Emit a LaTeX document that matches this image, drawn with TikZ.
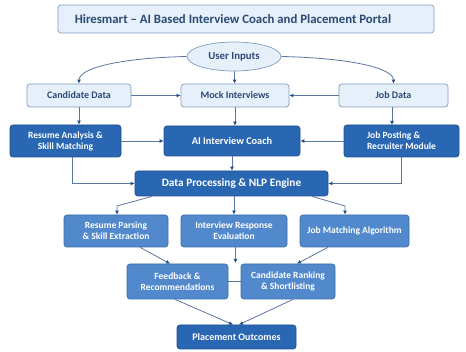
\documentclass[tikz,border=0pt]{standalone}
\usepackage{fontspec}
\setmainfont{Carlito}
\usetikzlibrary{arrows.meta,shapes.geometric}
\definecolor{lightfill}{HTML}{E6F0FA}
\definecolor{lightborder}{HTML}{7F9CC0}
\definecolor{darktext}{HTML}{2B4A75}
\definecolor{darkfill}{HTML}{2A67B3}
\definecolor{darkborder}{HTML}{1E4F8E}
\definecolor{midfill}{HTML}{5189CC}
\definecolor{midborder}{HTML}{3A6DAA}
\definecolor{linecol}{HTML}{5A77A0}
\definecolor{tipcol}{HTML}{1F4C8A}
\newcommand{\fs}[1]{\fontsize{#1}{11}\selectfont}
\tikzset{
  lightbox/.style={draw=lightborder, fill=lightfill, rounded corners=3pt, line width=0.7pt,
    text=darktext, font=\bfseries\fs{10}, align=center, inner sep=1pt},
  darkbox/.style={draw=darkborder, fill=darkfill, rounded corners=3pt, line width=0.7pt,
    text=white, font=\bfseries\fs{9.5}, align=center, inner sep=1pt},
  midbox/.style={draw=midborder, fill=midfill, rounded corners=3pt, line width=0.7pt,
    text=white, font=\bfseries\fs{9.5}, align=center, inner sep=1pt},
  conn/.style={draw=linecol, line width=0.8pt, -{Latex[length=4pt,width=4pt,color=tipcol]}},
  plainconn/.style={draw=linecol, line width=0.8pt},
}
\begin{document}
\begin{tikzpicture}[x=1pt,y=-1pt]
\useasboundingbox (0,0) rectangle (466,352);
% title
\node[lightbox, minimum width=376pt, minimum height=28pt] (titlebox) at (246,19) {};
\node[text=darktext, font=\bfseries\fontsize{12.8}{14}\selectfont, inner sep=0pt] (title) at (233,19) {Hiresmart -- AI Based Interview Coach and Placement Portal};
% ellipse
\node[ellipse, draw=lightborder, fill=lightfill, line width=0.7pt, text=darktext,
  font=\bfseries\fs{10.8}, minimum width=94pt, minimum height=29pt, inner sep=0pt] (ui) at (234,56.5) {User Inputs};
% row 1
\node[lightbox, minimum width=104pt, minimum height=23pt] (cand) at (79,95.5) {Candidate Data};
\node[lightbox, minimum width=108pt, minimum height=23pt] (mock) at (235,95.5) {Mock Interviews};
\node[lightbox, minimum width=109pt, minimum height=23pt] (job) at (393.5,95.5) {Job Data};
% row 2
\node[darkbox, minimum width=111pt, minimum height=32pt] (ra) at (65.5,141) {Resume Analysis \&\\Skill Matching};
\node[darkbox, minimum width=136pt, minimum height=30pt, font=\bfseries\fs{10.3}] (aic) at (232,141) {AI Interview Coach};
\node[darkbox, minimum width=115pt, minimum height=32pt, align=left] (jp) at (401.5,141) {Job Posting \&\\Recruiter Module};
% row 3
\node[darkbox, minimum width=193pt, minimum height=25pt, font=\bfseries\fs{11.3}] (dp) at (231.5,183.5) {Data Processing \& NLP Engine};
% row 4
\node[midbox, minimum width=104pt, minimum height=32pt] (rp) at (116,231) {Resume Parsing\\\& Skill Extraction};
\node[midbox, minimum width=106pt, minimum height=32pt] (ire) at (234,231) {Interview Response\\Evaluation};
\node[midbox, minimum width=109pt, minimum height=32pt] (jm) at (354.5,231) {Job Matching Algorithm};
% row 5
\node[midbox, minimum width=101pt, minimum height=35pt] (fb) at (177.5,281.5) {Feedback \&\\Recommendations};
\node[midbox, minimum width=94pt, minimum height=35pt] (cr) at (288,281.5) {Candidate Ranking\\\& Shortlisting};
% row 6
\node[darkbox, minimum width=119pt, minimum height=24pt, font=\bfseries\fs{10}] (po) at (236.5,337) {Placement Outcomes};

% coordinates
\coordinate (gap) at (235.5,263);
\coordinate (rpbend) at (117,206);
\coordinate (jmbend) at (345,206);

% connectors
\draw[conn] (ui.west) .. controls (120,58) and (79,68) .. (cand.north);
\draw[conn] (ui.east) .. controls (350,58) and (393.5,68) .. (job.north);
\draw[conn] (ui) -- (mock);
\draw[conn] (cand) -- (mock);
\draw[conn] (job) -- (mock);
\draw[conn] (cand) -- (cand |- ra.north);
\draw[conn] (mock) -- (mock |- aic.north);
\draw[conn] (job.south -| 392,0) -- (392,125);
\draw[conn] (ra) -- (aic);
\draw[conn] (jp) -- (aic);
\draw[conn] (aic) -- (aic |- dp.north);
\draw[conn] (72,157) |- (dp.west);
\draw[conn] (401,157) |- (dp.east);
\draw[conn] (dp.south -| 152,0) -- (rpbend) -- (rpbend |- rp.north);
\draw[conn] (dp.south -| 234,0) -- (ire.north);
\draw[conn] (dp.south -| 312,0) -- (jmbend) -- (jmbend |- jm.north);
\draw[conn] (rp.south -| 140,0) -- (fb.north -| 170,0);
\draw[conn] (ire.south -| gap) -- (gap);
\draw[conn] (jm.south -| 328,0) -- (cr.north -| 297,0);
\draw[plainconn] (fb) -- (cr);
\draw[conn] (fb.south -| 175,0) -- (po.north -| 233,0);
\draw[conn] (cr.south -| 293,0) -- (po.north -| 239,0);
\end{tikzpicture}
\end{document}
